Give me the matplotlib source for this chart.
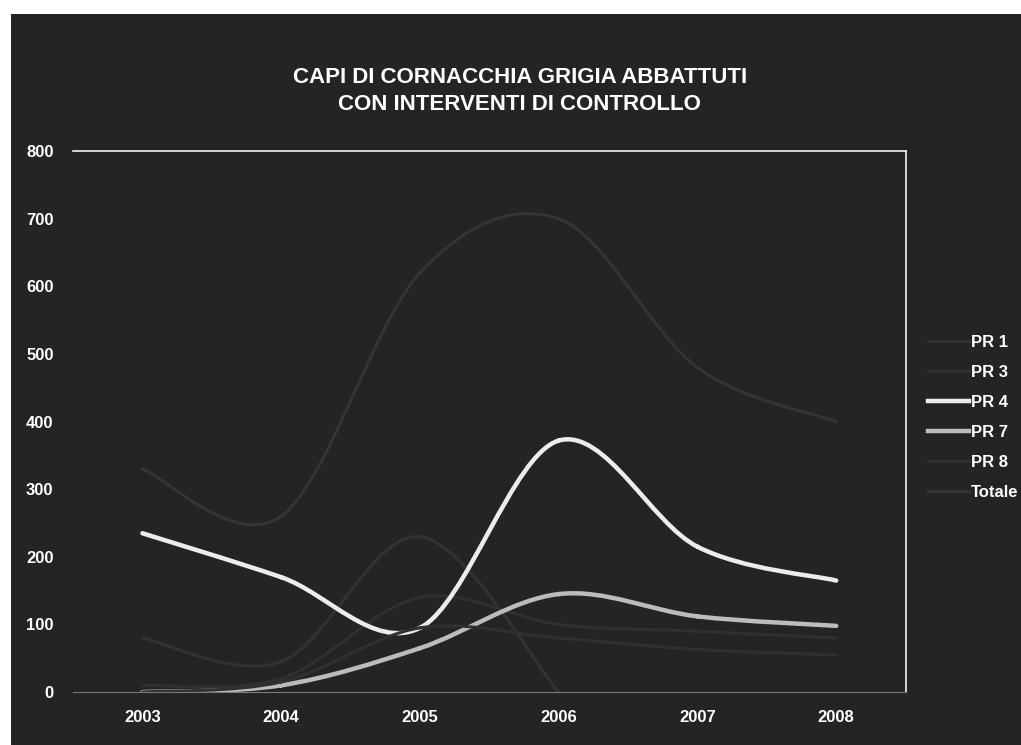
import numpy as np
import matplotlib
matplotlib.use("Agg")
import matplotlib.pyplot as plt
from matplotlib.path import Path
from matplotlib.patches import PathPatch, Rectangle
from matplotlib.lines import Line2D

plt.rcParams['font.family'] = ['Liberation Sans', 'DejaVu Sans']

# capi abbattuti per anno
anni = ['2003', '2004', '2005', '2006', '2007', '2008']
pr1 = [80, 45, 230, 0, np.nan, np.nan]
pr3 = [10, 20, 140, 100, 90, 80]
pr4 = [235, 170, 95, 372, 215, 165]
pr7 = [0, 10, 65, 145, 112, 98]
pr8 = [0, 15, 95, 80, 63, 55]
totale = [330, 260, 620, 700, 480, 400]

serie = [('PR 1', pr1, '#323232'),
         ('PR 3', pr3, '#303030'),
         ('PR 4', pr4, '#ececec'),
         ('PR 7', pr7, '#bcbcbc'),
         ('PR 8', pr8, '#303030'),
         ('Totale', totale, '#343434')]

bg = '#242424'


def curva_smussata(x, y):
    # linea smussata tipo Excel: bezier con tangenti (P[i+1]-P[i-1])/6
    x = np.asarray(x, float)
    y = np.asarray(y, float)
    verts, codes = [], []
    n = len(x)
    for i in range(n - 1):
        if np.isnan(y[i]) or np.isnan(y[i + 1]):
            continue
        i0 = i - 1 if i > 0 and not np.isnan(y[i - 1]) else i
        i3 = i + 2 if i + 2 < n and not np.isnan(y[i + 2]) else i + 1
        p0 = np.array([x[i0], y[i0]])
        p1 = np.array([x[i], y[i]])
        p2 = np.array([x[i + 1], y[i + 1]])
        p3 = np.array([x[i3], y[i3]])
        c1 = p1 + (p2 - p0) / 6
        c2 = p2 - (p3 - p1) / 6
        verts += [p1, c1, c2, p2]
        codes += [Path.MOVETO, Path.CURVE4, Path.CURVE4, Path.CURVE4]
    return Path(verts, codes)


fig = plt.figure(figsize=(10.21, 7.45), dpi=100, facecolor='white')
fig.patches.append(Rectangle((11 / 1021, 0), 1, 1 - 14 / 745, transform=fig.transFigure,
                             facecolor=bg, edgecolor='none', zorder=-1))

ax = fig.add_axes([0.0715, 0.071, 0.8155, 0.726])
ax.set_facecolor(bg)

x = np.arange(len(anni))
handles = []
for nome, valori, col in serie:
    lw = 3.2 if nome in ('PR 4', 'PR 7') else 2.2
    ax.add_patch(PathPatch(curva_smussata(x, valori), facecolor='none',
                           edgecolor=col, lw=lw, capstyle='round'))
    handles.append(Line2D([], [], color=col, lw=lw))

ax.set_xlim(-0.5, len(anni) - 0.5)
ax.set_ylim(0, 800)
ax.set_xticks(x)
ax.set_xticklabels(anni)
ax.set_yticks(np.arange(0, 801, 100))
ax.tick_params(colors='white', length=0, labelsize=12, pad=14)
ax.tick_params(axis='x', pad=13)
for lab in ax.get_xticklabels() + ax.get_yticklabels():
    lab.set_fontweight('bold')

for s in ['top', 'right']:
    ax.spines[s].set_color('#f2f2f2')
    ax.spines[s].set_linewidth(1.2)
ax.spines['bottom'].set_color('#7a7a7a')
ax.spines['left'].set_visible(False)

fig.text(0.509, 0.878, 'CAPI DI CORNACCHIA GRIGIA ABBATTUTI\nCON INTERVENTI DI CONTROLLO',
         ha='center', va='center', color='white', fontsize=16, fontweight='bold',
         linespacing=1.35)

leg = fig.legend(handles, [s[0] for s in serie], loc='center left',
                 bbox_to_anchor=(0.894, 0.44), frameon=False, handlelength=2.5,
                 handletextpad=0.1, labelspacing=0.9, fontsize=12)
for t in leg.get_texts():
    t.set_color('white')
    t.set_fontweight('bold')

fig.savefig('out.png', dpi=100, facecolor='white')
